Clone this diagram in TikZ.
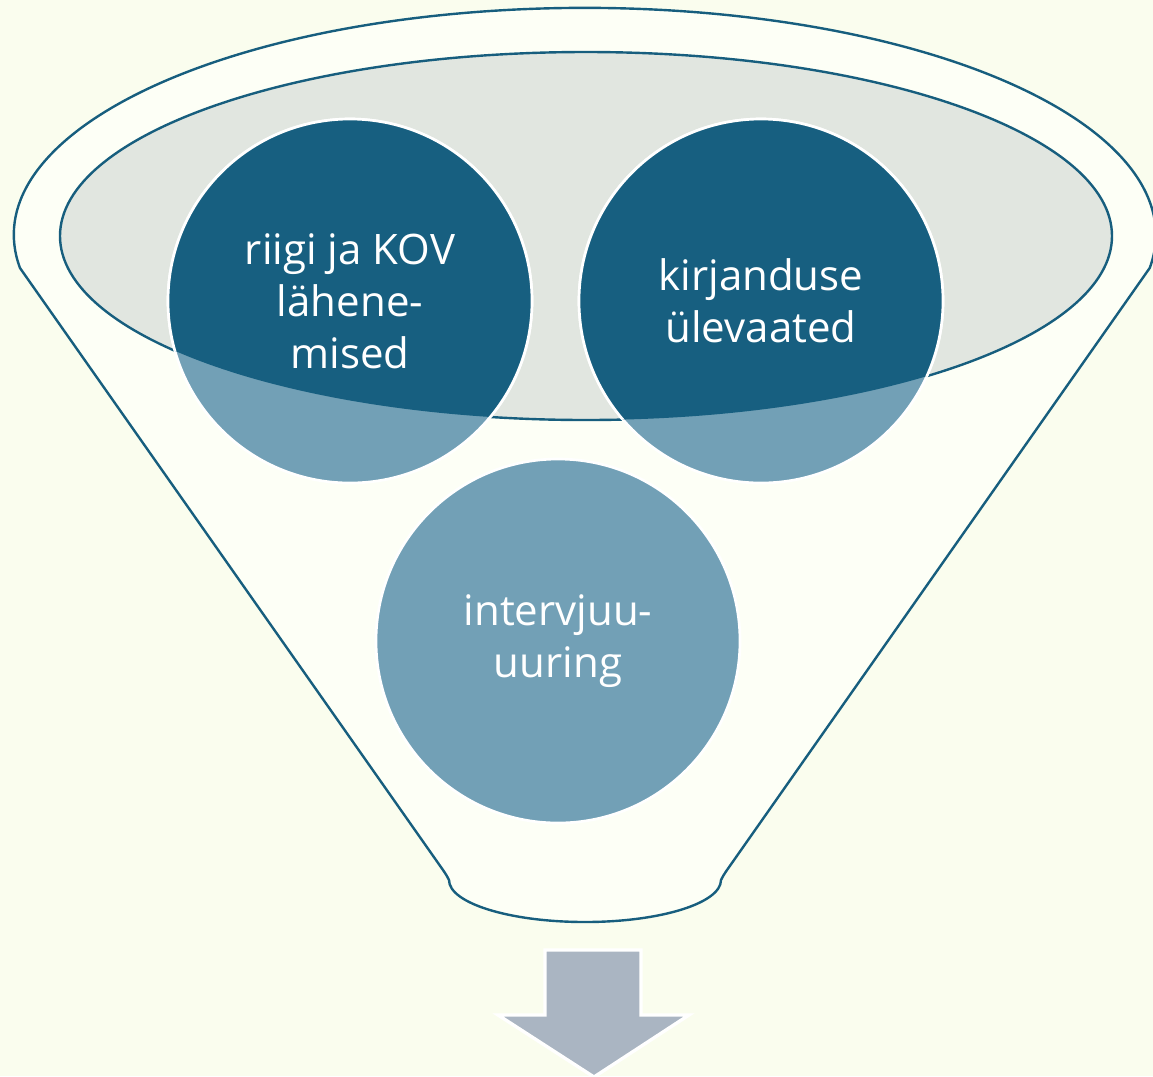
\documentclass[tikz,border=0pt]{standalone}
\usepackage{fontspec}
\setmainfont{Open Sans}

\definecolor{bgcream}{RGB}{250,253,238}
\definecolor{funfill}{RGB}{253,255,246}
\definecolor{rimgrey}{RGB}{225,230,224}
\definecolor{funline}{RGB}{23,94,126}
\definecolor{circdark}{RGB}{23,95,128}
\definecolor{circlight}{RGB}{114,160,182}
\definecolor{arrowgrey}{RGB}{170,181,194}

\tikzset{every picture/.style={line width=0.75pt}}
\tikzset{
  funnelline/.style={color=funline, line width=1.8pt},
  bubble/.style={circle, minimum size=273pt, inner sep=0pt, fill=circlight, draw=white, line width=2pt},
  bubbletext/.style={align=center, text=white, font=\fontsize{31.5}{39}\selectfont, inner sep=0.75pt}
}

\begin{document}
\begin{tikzpicture}[x=0.75pt,y=0.75pt,yscale=-1,xscale=1]
%set diagram to the size of the reference
\fill[bgcream] (0,0) rectangle (1153,1076);
\useasboundingbox (0,0) rectangle (1153,1076);

%Shape: Funnel body
\draw[funnelline, fill=funfill] (20,268) arc [start angle=171.6, end angle=368.4, x radius=571, y radius=227]
  -- (727,870) .. controls (723,876) .. (721,880)
  arc [start angle=0, end angle=180, x radius=136, y radius=42]
  .. controls (447,876) .. (443,870) -- cycle ;
%Shape: Ellipse (rim)
\draw[funnelline, fill=rimgrey] (586,236) ellipse [x radius=526, y radius=184] ;

%Shape: Circles
\node[bubble] (riigi) at (350,301) {};
\node[bubble] (kirjandus) at (761,301) {};
\node[bubble] (intervjuu) at (558,641) {};

%dark part of the circles inside the rim
\begin{scope}
\clip (586,236) ellipse [x radius=526, y radius=184];
\draw[fill=circdark, draw=white, line width=2pt] (riigi.center) circle [radius=182];
\draw[fill=circdark, draw=white, line width=2pt] (kirjandus.center) circle [radius=182];
\end{scope}

% Text Node
\node[bubbletext] (riigitext) at (riigi.center) {riigi ja KOV\\lähene-\\mised};
% Text Node
\node[bubbletext] (kirjandustext) at (kirjandus.center) {kirjanduse\\ülevaated};
% Text Node
\node[bubbletext] (intervjuutext) at (intervjuu.center) {intervjuu-\\uuring};

%Shape: Down Arrow
\draw[fill=arrowgrey, draw=white, line width=2.5pt] (545,950) -- (641,950) -- (641,1015) -- (689,1015) -- (594,1077) -- (498,1015) -- (545,1015) -- cycle ;

\end{tikzpicture}
\end{document}
